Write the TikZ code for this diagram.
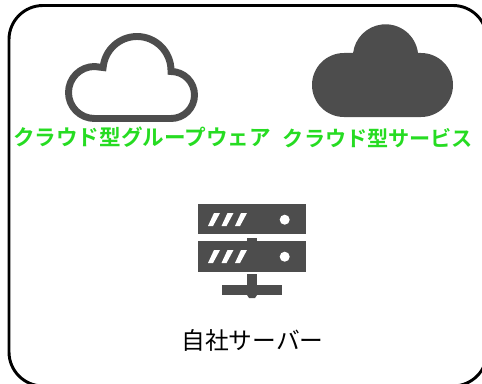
\documentclass[tikz,border=0pt]{standalone}
\usepackage{fontspec}
\newfontfamily\cjk{Noto Sans CJK JP}
\newfontfamily\cjkbold{Noto Sans CJK JP Bold}
\usepackage{tikz}
\definecolor{icongray}{HTML}{4D4D4D}
\definecolor{labelgreen}{HTML}{26DC22}
\tikzset{
	icon line/.style={draw=icongray, line width=5.2pt, line join=miter},
	icon fill/.style={fill=icongray, draw=none},
	green label/.style={text=labelgreen, inner sep=0pt, font=\cjkbold\fontsize{#1}{16}\selectfont},
	black label/.style={text=black, inner sep=0pt, font=\cjk\fontsize{17.8}{18}\selectfont},
	bar slash/.style={fill=white, draw=none}
}
\begin{document}
\begin{tikzpicture}[x=.75pt,y=.75pt]
	\clip (0,0) rectangle (482,383);
	% frame
	\draw[line width=2.2pt, rounded corners=25.5pt] (9,-3) rectangle (487,377.5);
	% outline cloud
	\draw[icon line] (94.5,264.5) -- (171,264.5) arc[start angle=-90,end angle=90,radius=23.5]
		-- (171,312.5) arc[start angle=0,end angle=175,radius=34]
		-- (94.5,316.5) arc[start angle=90,end angle=270,radius=26] -- cycle;
	% filled cloud
	\fill[icon fill] (344,266) -- (421,266) arc[start angle=-90,end angle=90,radius=32]
		-- (418,330) arc[start angle=7,end angle=173,radius=32.7]
		-- (344,330) arc[start angle=90,end angle=270,radius=32] -- cycle;
	% server
	\fill[icon fill] (198,148.7) rectangle (306,178.7);
	\fill[icon fill] (198,111.3) rectangle (306,142);
	\fill[icon fill] (247,141.5) rectangle (257,145.5);
	\fill[icon fill] (247,88) rectangle (257,108.7);
	\fill[icon fill] (222.3,88) rectangle (281.7,98);
	\fill[icon fill] (247,88) -- (249,85) -- (255,85) -- (257,88) -- cycle;
	\foreach \y in {0,-37} {
		\begin{scope}[yshift=\y*.75pt]
			\foreach \x in {0,13.5,27} {
				\fill[bar slash] (208+\x,157) -- (213+\x,157) -- (220+\x,170) -- (214+\x,170) -- cycle;
			}
			\fill[white] (284.7,163.3) circle[radius=5];
		\end{scope}
	}
	% labels
	\node[green label=16.2] (groupware) at (142,246) {クラウド型グループウェア};
	\node[green label=15.85] (service) at (378,245) {クラウド型サービス};
	\node[black label] (server) at (252.5,43) {自社サーバー};
\end{tikzpicture}
\end{document}
